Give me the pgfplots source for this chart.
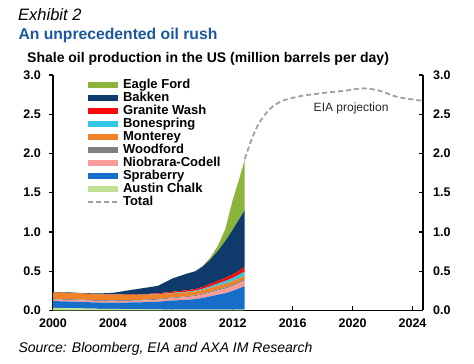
\documentclass[border=0pt]{standalone}
\usepackage{fontspec}
\setmainfont{Liberation Sans}
\usepackage{pgfplots}
\usepackage{pgfplotstable}
\pgfplotsset{compat=1.18}
\definecolor{cEF}{RGB}{141,180,58}
\definecolor{cBK}{RGB}{14,58,108}
\definecolor{cGW}{RGB}{250,10,10}
\definecolor{cBO}{RGB}{50,200,228}
\definecolor{cMO}{RGB}{240,130,40}
\definecolor{cWO}{RGB}{128,128,128}
\definecolor{cNC}{RGB}{250,155,155}
\definecolor{cSP}{RGB}{22,110,200}
\definecolor{cAC}{RGB}{190,225,150}
\definecolor{cTot}{RGB}{160,160,160}
\definecolor{cTitle}{RGB}{28,88,158}
\pgfplotsset{
  lgarea/.style={legend image code/.code={\fill[##1, draw=none] (0pt,-3pt) rectangle (30pt,3pt);}},
  lgline/.style={legend image code/.code={\draw[##1] (0pt,0pt) -- (30pt,0pt);}},
}
\pgfplotstableread{
x AC SP NC WO MO BO GW BK EF
2000.0 0.035 0.085 0.020 0.010 0.080 0.000 0.000 0.005 0.000
2001.0 0.030 0.085 0.020 0.010 0.080 0.000 0.000 0.006 0.000
2002.0 0.026 0.082 0.020 0.010 0.078 0.000 0.000 0.006 0.000
2003.0 0.022 0.080 0.020 0.010 0.075 0.000 0.000 0.010 0.000
2004.0 0.020 0.080 0.020 0.010 0.072 0.000 0.002 0.020 0.000
2005.0 0.018 0.084 0.021 0.010 0.067 0.000 0.005 0.050 0.000
2006.0 0.015 0.090 0.022 0.010 0.062 0.002 0.008 0.075 0.000
2007.0 0.013 0.100 0.025 0.010 0.057 0.003 0.010 0.095 0.000
2008.0 0.012 0.115 0.030 0.010 0.053 0.005 0.015 0.170 0.000
2008.9 0.011 0.125 0.034 0.011 0.050 0.008 0.018 0.210 0.000
2009.5 0.010 0.135 0.038 0.012 0.048 0.011 0.020 0.225 0.002
2010.0 0.010 0.150 0.043 0.012 0.047 0.014 0.024 0.260 0.008
2010.5 0.010 0.170 0.048 0.013 0.047 0.020 0.030 0.310 0.025
2011.0 0.010 0.190 0.054 0.014 0.047 0.028 0.035 0.380 0.065
2011.5 0.010 0.210 0.058 0.015 0.047 0.035 0.040 0.470 0.150
2012.0 0.010 0.240 0.063 0.015 0.047 0.040 0.045 0.570 0.380
2012.4 0.010 0.270 0.067 0.015 0.048 0.045 0.050 0.650 0.500
2012.8 0.010 0.300 0.070 0.015 0.050 0.050 0.060 0.720 0.650
}\shale
\pgfplotstableread{
x tot
2012.8 1.93
2013.3 2.20
2013.8 2.40
2014.5 2.57
2015.3 2.67
2016.5 2.73
2018.0 2.77
2019.5 2.80
2020.7 2.83
2021.8 2.80
2023.0 2.72
2024.7 2.67
}\total
\begin{document}
\begin{tikzpicture}
\useasboundingbox (0pt,0pt) rectangle (474pt,364pt);
\node[anchor=base west,inner sep=0pt,font=\fontsize{16.5}{18}\selectfont\itshape] at (18pt,343.3pt) {Exhibit 2};
\node[anchor=base west,inner sep=0pt,font=\fontsize{15.7}{18}\selectfont\bfseries,text=cTitle] at (18.3pt,324.7pt) {An unprecedented oil rush};
\node[anchor=base west,inner sep=0pt,font=\fontsize{14}{16}\selectfont\bfseries] at (27pt,301.3pt) {Shale oil production in the US (million barrels per day)};
\node[anchor=base west,inner sep=0pt,font=\fontsize{14}{16}\selectfont\itshape] at (18.3pt,11.3pt) {Source: Bloomberg, EIA and AXA IM Research};
\begin{axis}[
  at={(53pt,53.5pt)}, anchor=south west,
  scale only axis, width=370pt, height=235.5pt,
  xmin=2000, xmax=2024.7, ymin=0, ymax=3,
  axis x line*=bottom, axis y line*=left,
  axis line style={line width=1.6pt, -},
  xtick={2000,2004,...,2024}, ytick={0,0.5,...,3},
  tick style={black, line width=1.2pt},
  major tick length=4pt,
  xtick align=inside, ytick align=outside,
  stack plots=y,
  /pgf/number format/assume math mode=true,
  tick label style={font=\fontsize{12.5}{14}\selectfont\bfseries, inner sep=0pt},
  xticklabel style={/pgf/number format/1000 sep={}, yshift=-8pt},
  yticklabel style={/pgf/number format/fixed, /pgf/number format/fixed zerofill, /pgf/number format/precision=1, xshift=-8pt},
]
\addplot[fill=cAC, draw=none] table[x=x,y=AC] {\shale} \closedcycle;
\addplot[fill=cSP, draw=none] table[x=x,y=SP] {\shale} \closedcycle;
\addplot[fill=cNC, draw=none] table[x=x,y=NC] {\shale} \closedcycle;
\addplot[fill=cWO, draw=none] table[x=x,y=WO] {\shale} \closedcycle;
\addplot[fill=cMO, draw=none] table[x=x,y=MO] {\shale} \closedcycle;
\addplot[fill=cBO, draw=none] table[x=x,y=BO] {\shale} \closedcycle;
\addplot[fill=cGW, draw=none] table[x=x,y=GW] {\shale} \closedcycle;
\addplot[fill=cBK, draw=none] table[x=x,y=BK] {\shale} \closedcycle;
\addplot[fill=cEF, draw=none] table[x=x,y=EF] {\shale} \closedcycle;
\end{axis}
\begin{axis}[
  at={(53pt,53.5pt)}, anchor=south west,
  scale only axis, width=370pt, height=235.5pt,
  xmin=2000, xmax=2024.7, ymin=0, ymax=3,
  axis x line=none, axis y line*=right,
  axis line style={line width=1.6pt, -},
  ytick={0,0.5,...,3},
  tick style={black, line width=1.2pt},
  major tick length=4pt, ytick align=inside,
  /pgf/number format/assume math mode=true,
  tick label style={font=\fontsize{12.5}{14}\selectfont\bfseries, inner sep=0pt},
  yticklabel style={/pgf/number format/fixed, /pgf/number format/fixed zerofill, /pgf/number format/precision=1, xshift=10pt},
  legend style={at={(axis description cs:0.092,0.985)}, anchor=north west, draw=none, fill=none, inner sep=0pt,
    font=\fontsize{13}{13}\selectfont\bfseries,
    nodes={inner sep=0pt, text height=9.5pt, text depth=3.5pt},
    row sep=0pt, /tikz/every odd column/.append style={column sep=4pt}},
  legend cell align=left,
]
\addlegendimage{lgarea, fill=cEF}\addlegendentry{Eagle Ford}
\addlegendimage{lgarea, fill=cBK}\addlegendentry{Bakken}
\addlegendimage{lgarea, fill=cGW}\addlegendentry{Granite Wash}
\addlegendimage{lgarea, fill=cBO}\addlegendentry{Bonespring}
\addlegendimage{lgarea, fill=cMO}\addlegendentry{Monterey}
\addlegendimage{lgarea, fill=cWO}\addlegendentry{Woodford}
\addlegendimage{lgarea, fill=cNC}\addlegendentry{Niobrara-Codell}
\addlegendimage{lgarea, fill=cSP}\addlegendentry{Spraberry}
\addlegendimage{lgarea, fill=cAC}\addlegendentry{Austin Chalk}
\addlegendimage{lgline, cTot, line width=1.8pt, dash pattern=on 5pt off 3pt}\addlegendentry{Total}
\addplot[cTot, line width=1.8pt, dash pattern=on 5pt off 3pt, smooth, forget plot] table[x=x,y=tot] {\total};
\node[font=\fontsize{12}{14}\selectfont, text=black!85] at (axis cs:2019.9,2.57) {EIA projection};
\end{axis}
\end{tikzpicture}
\end{document}
